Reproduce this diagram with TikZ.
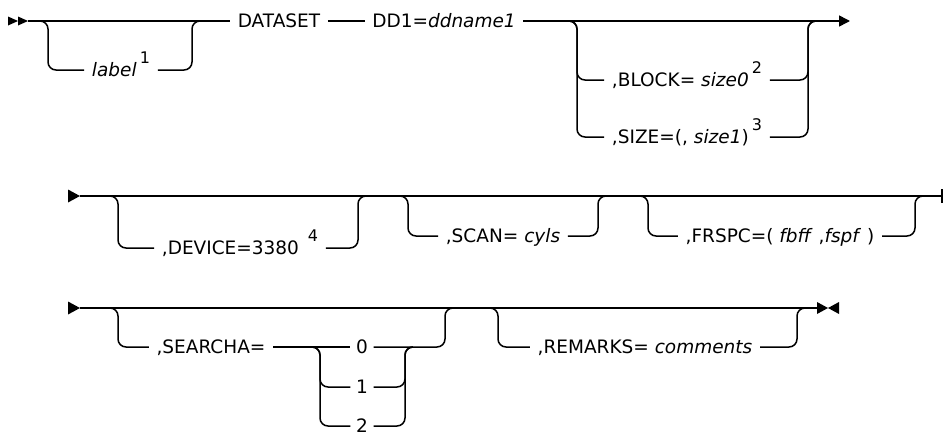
\documentclass[tikz,border=0pt]{standalone}
\usepackage{fontspec}
\setmainfont{DejaVu Sans}
\usepackage{tikz}
\usetikzlibrary{positioning,arrows.meta,calc}
\newcommand{\noteref}[1]{\,\raisebox{13pt}{\fontsize{16}{16}\selectfont #1}}

\begin{document}
\begin{tikzpicture}[x=1pt, y=-1pt, line width=1.5pt, font=\fontsize{18.5}{22}\selectfont,
  kw/.style={inner xsep=7pt, inner ysep=0pt, text height=13.5pt, text depth=0pt},
  num/.style={kw, inner xsep=5pt},
  railbend/.style={rounded corners=8pt}]
\useasboundingbox (0,0) rectangle (945,439);

% first line
\coordinate (r1start) at (28,21);
\coordinate (lIn) at (40,21);
\coordinate (lOut) at (200,21);
\coordinate (bIn) at (569,21);
\coordinate (bOut) at (816,21);
\coordinate (r1end) at (850,21);
\node[kw] (label) at (121,70) {\textit{label}\noteref{1}};
\node[kw] (dataset) at (279,21) {DATASET};
\node[kw] (dd1) at (444,21) {DD1=\textit{ddname1}};
\node[kw] (block) at (687,80) {,BLOCK= \textit{size0}\noteref{2}};
\node[kw] (size) at (687,137) {,SIZE=(, \textit{size1})\noteref{3}};
\fill (r1start) -- ++(-10,-4.5) -- ++(0,9) -- cycle;
\fill ([xshift=-10pt]r1start) -- ++(-10,-4.5) -- ++(0,9) -- cycle;
\draw[-{Triangle[length=11pt,width=11pt]}] (r1start) -- (lIn) -- (lOut) -- (dataset) -- (dd1) -- (bIn) -- (bOut) -- (r1end);
\draw[railbend] (lIn) -| ([xshift=8pt]lIn |- label.west) -- (label.west);
\draw[railbend] (label.east) -| ([xshift=-8pt]lOut) -- (lOut);
\draw[railbend] (bIn) -| ([xshift=8pt]bIn |- size.west) -- (size.west);
\draw[railbend] (bIn) -| ([xshift=8pt]bIn |- block.west) -- (block.west);
\draw[railbend] (block.east) -| ([xshift=-8pt]bOut) -- (bOut);
\draw[railbend] (size.east) -| ([xshift=-8pt]bOut) -- (bOut);

% second line
\coordinate (r2start) at (80,196);
\coordinate (dIn) at (110,196);
\coordinate (dOut) at (366,196);
\coordinate (sIn) at (400,196);
\coordinate (sOut) at (606,196);
\coordinate (fIn) at (640,196);
\coordinate (fOut) at (923,196);
\coordinate (r2end) at (943,196);
\node[kw] (device) at (240,248) {,DEVICE=3380 \noteref{4}};
\node[kw] (scan) at (503,236) {,SCAN= \textit{cyls}};
\node[kw] (frspc) at (780,236) {,FRSPC=( \textit{fbff} ,\textit{fspf} )};
\fill (r2start) -- ++(-12,-6.5) -- ++(0,13) -- cycle;
\draw[-{Bar[width=14pt,line width=2.4pt]}] (r2start) -- (dIn) -- (dOut) -- (sIn) -- (sOut) -- (fIn) -- (fOut) -- (r2end);
\draw[railbend] (dIn) -| ([xshift=8pt]dIn |- device.west) -- (device.west);
\draw[railbend] (device.east) -| ([xshift=-8pt]dOut) -- (dOut);
\draw[railbend] (sIn) -| ([xshift=8pt]sIn |- scan.west) -- (scan.west);
\draw[railbend] (scan.east) -| ([xshift=-8pt]sOut) -- (sOut);
\draw[railbend] (fIn) -| ([xshift=8pt]fIn |- frspc.west) -- (frspc.west);
\draw[railbend] (frspc.east) -| ([xshift=-8pt]fOut) -- (fOut);

% third line
\coordinate (r3start) at (80,308);
\coordinate (qIn) at (110,308);
\coordinate (qOut) at (453,308);
\coordinate (rIn) at (490,308);
\coordinate (rOut) at (805,308);
\coordinate (r3stop) at (817,308);
\coordinate (cIn) at (312,347);
\coordinate (cOut) at (413,347);
\node[kw] (searcha) at (211,347) {,SEARCHA=};
\node[num] (zero) at (362,347) {0};
\node[num] (one) at (362,387) {1};
\node[num] (two) at (362,426) {2};
\node[kw] (remarks) at (645,347) {,REMARKS= \textit{comments}};
\fill (r3start) -- ++(-12,-6.5) -- ++(0,13) -- cycle;
\draw (r3start) -- (qIn) -- (qOut) -- (rIn) -- (rOut) -- (r3stop);
\fill (r3stop) ++(0,-6) -- ++(11,6) -- ++(-11,6) -- cycle;
\fill ([xshift=22pt]r3stop) ++(0,-6) -- ++(-11,6) -- ++(11,6) -- cycle;
\draw[railbend] (qIn) -| ([xshift=8pt]qIn |- searcha.west) -- (searcha.west);
\draw (searcha.east) -- (zero.west);
\draw[railbend] (zero.east) -| ([xshift=-8pt]qOut) -- (qOut);
\draw[railbend] (cIn) -| ([xshift=8pt]cIn |- two.west) -- (two.west);
\draw[railbend] (cIn) -| ([xshift=8pt]cIn |- one.west) -- (one.west);
\draw[railbend] (one.east) -| ([xshift=-8pt]cOut) -- (cOut);
\draw[railbend] (two.east) -| ([xshift=-8pt]cOut) -- (cOut);
\draw[railbend] (rIn) -| ([xshift=8pt]rIn |- remarks.west) -- (remarks.west);
\draw[railbend] (remarks.east) -| ([xshift=-8pt]rOut) -- (rOut);
\end{tikzpicture}
\end{document}
